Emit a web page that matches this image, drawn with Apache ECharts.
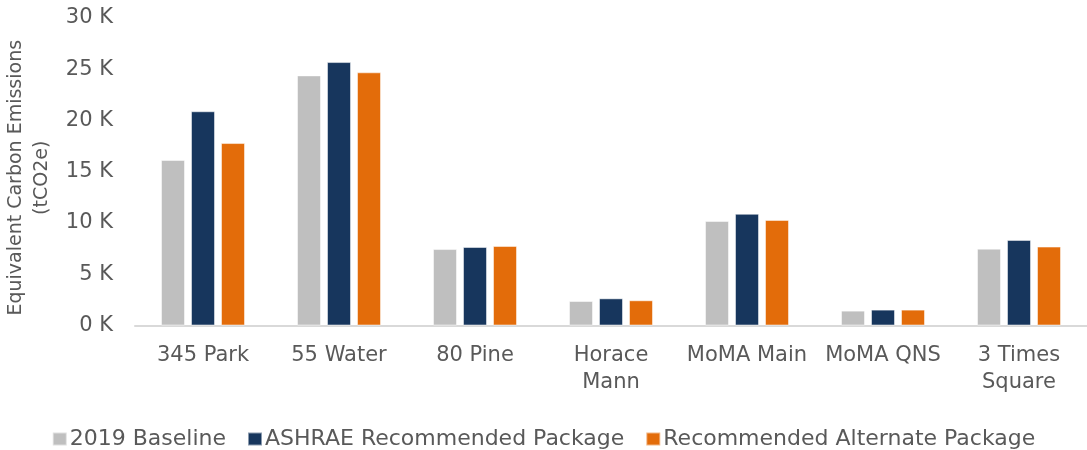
<!DOCTYPE html>
<html><head><meta charset="utf-8">
<script src="https://cdn.jsdelivr.net/npm/echarts@6/dist/echarts.min.js"></script>
<style>html,body{margin:0;padding:0;background:#fff}#c{width:1087px;height:450px}</style>
</head><body><div id="c"></div>
<script>
const categories = ['345 Park', '55 Water', '80 Pine', 'Horace\nMann', 'MoMA Main', 'MoMA QNS', '3 Times\nSquare'];
const seriesNames = ['2019 Baseline', 'ASHRAE Recommended Package', 'Recommended Alternate Package'];
const baseline = [16150, 24400, 7460, 2390, 10200, 1450, 7500];
const ashrae = [20900, 25700, 7660, 2650, 10900, 1550, 8350];
const alternate = [17800, 24700, 7760, 2460, 10300, 1550, 7700];
const yTicks = [0, 5000, 10000, 15000, 20000, 25000, 30000];
const colors = ['#bfbfbf', '#17365d', '#e36c0a'];
const font = '"DejaVu Sans", sans-serif';
const txt = '#595959';
const chart = echarts.init(document.getElementById('c'));
const vals = [baseline, ashrae, alternate];
chart.setOption({
  animation: false,
  grid: {left: 135, right: 0, top: 18, bottom: 124.5, containLabel: false, outerBoundsMode: 'none'},
  legend: {
    top: 423, left: 'center', itemWidth: 14, itemHeight: 13, itemGap: 21,
    icon: 'rect',
    textStyle: {color: txt, fontSize: 22, fontFamily: font, padding: [0,0,0,-2]},
    data: seriesNames
  },
  xAxis: {
    type: 'category', data: categories,
    axisLine: {lineStyle: {color: '#d9d9d9', width: 2}},
    axisTick: {show: false},
    axisLabel: {color: txt, fontSize: 21, fontFamily: font, margin: 17, lineHeight: 27, interval: 0}
  },
  yAxis: {
    type: 'value', min: yTicks[0], max: yTicks[yTicks.length-1], interval: 5000,
    splitLine: {show: false}, axisLine: {show: false}, axisTick: {show: false},
    axisLabel: {color: txt, fontSize: 21, fontFamily: font, margin: 22,
      formatter: v => (v/1000) + ' K'},
    name: 'Equivalent Carbon Emissions\n(tCO2e)', nameLocation: 'middle', nameGap: 76,
    nameTextStyle: {color: txt, fontSize: 19, fontFamily: font, lineHeight: 26, padding: [0, 12, 0, 0]}
  },
  series: seriesNames.map((n, i) => ({
    name: n, type: 'bar', data: vals[i], barWidth: 24, barGap: '25%',
    itemStyle: {color: colors[i], borderColor: 'rgba(255,255,255,0.5)', borderWidth: 1}
  }))
});
</script></body></html>
